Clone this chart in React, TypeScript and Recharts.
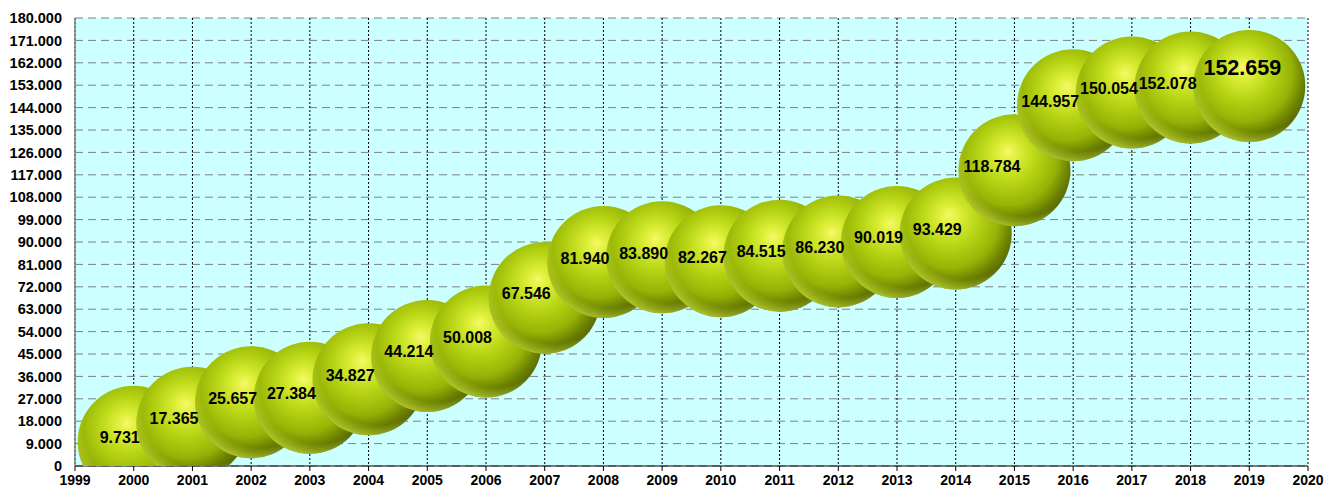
import React from 'react';
import { ScatterChart, Scatter, XAxis, YAxis, CartesianGrid } from 'recharts';

const years = [2000, 2001, 2002, 2003, 2004, 2005, 2006, 2007, 2008, 2009, 2010, 2011, 2012, 2013, 2014, 2015, 2016, 2017, 2018, 2019];
const values = [9731, 17365, 25657, 27384, 34827, 44214, 50008, 67546, 81940, 83890, 82267, 84515, 86230, 90019, 93429, 118784, 144957, 150054, 152078, 152659];
const xTicks = [1999, 2000, 2001, 2002, 2003, 2004, 2005, 2006, 2007, 2008, 2009, 2010, 2011, 2012, 2013, 2014, 2015, 2016, 2017, 2018, 2019, 2020];
const yTicks = [0, 9000, 18000, 27000, 36000, 45000, 54000, 63000, 72000, 81000, 90000, 99000, 108000, 117000, 126000, 135000, 144000, 153000, 162000, 171000, 180000];

const data = years.map((year, i) => ({ year, value: values[i] }));

const FONT = '"Liberation Sans", Arial, sans-serif';
const R = 56;

const fmt = (v: number) => (v === 0 ? '0' : String(v).replace(/\B(?=(\d{3})+(?!\d))/g, '.'));

const Bubble = (props: any) => {
  const { cx, cy } = props;
  if (cx == null || cy == null) return null;
  return (
    <g>
      <circle cx={cx} cy={cy} r={R} fill="url(#sphereMain)" />
      <circle cx={cx} cy={cy} r={R} fill="url(#sphereRim)" />
    </g>
  );
};

const BubbleLabel = (props: any) => {
  const { cx, cy, payload } = props;
  if (cx == null || cy == null) return null;
  const isLast = payload.year === years[years.length - 1];
  return (
    <text
      x={isLast ? cx - 7 : cx + 6}
      y={isLast ? cy - 18 : cy - 4}
      textAnchor={isLast ? 'middle' : 'end'}
      dominantBaseline="central"
      fontFamily={FONT}
      fontWeight="bold"
      fontSize={isLast ? 21.5 : 16}
      fill="#000"
    >
      {fmt(payload.value)}
    </text>
  );
};

export default function App() {
  return (
    <div style={{ position: 'absolute', left: 0, top: 0, width: 1325, height: 488, background: '#fff' }}>
      <svg width={0} height={0} style={{ position: 'absolute' }}>
        <defs>
          <radialGradient id="sphereMain" cx="45%" cy="40%" r="62%" fx="44%" fy="33%">
            <stop offset="0%" stopColor="#f6f86a" />
            <stop offset="14%" stopColor="#def03a" />
            <stop offset="42%" stopColor="#b6d414" />
            <stop offset="70%" stopColor="#96b206" />
            <stop offset="88%" stopColor="#6a7e00" />
            <stop offset="100%" stopColor="#55650a" />
          </radialGradient>
          <radialGradient id="sphereRim" cx="58%" cy="38%" r="66%" fx="58%" fy="38%">
            <stop offset="0%" stopColor="#d8f040" stopOpacity={0} />
            <stop offset="80%" stopColor="#d8f040" stopOpacity={0} />
            <stop offset="100%" stopColor="#d8f040" stopOpacity={0.75} />
          </radialGradient>
        </defs>
      </svg>
      <ScatterChart width={1325} height={488} margin={{ top: 18, right: 17, bottom: 0, left: 0 }}>
        <CartesianGrid horizontal vertical={false} stroke="#808080" strokeDasharray="8 5" fill="#ccffff" />
        <CartesianGrid horizontal={false} vertical stroke="#000" strokeDasharray="2 2" strokeWidth={1} />
        <XAxis
          dataKey="year"
          type="number"
          domain={[1999, 2020]}
          ticks={xTicks}
          interval={0}
          height={22}
          tickSize={5}
          tickMargin={4}
          axisLine={{ stroke: '#000', strokeWidth: 1 }}
          tickLine={{ stroke: '#000' }}
          tick={{ fill: '#000', fontSize: 14, fontWeight: 'bold', fontFamily: FONT }}
        />
        <XAxis
          xAxisId="top"
          orientation="top"
          dataKey="year"
          type="number"
          domain={[1999, 2020]}
          height={0}
          tick={false}
          tickLine={false}
          axisLine={{ stroke: '#999', strokeWidth: 2 }}
        />
        <YAxis
          dataKey="value"
          type="number"
          domain={[0, 180000]}
          ticks={yTicks}
          interval={0}
          allowDataOverflow
          width={75}
          tickLine={false}
          tickSize={8}
          tickMargin={5}
          tickFormatter={fmt}
          axisLine={{ stroke: '#808080', strokeWidth: 1.5 }}
          tick={{ fill: '#000', fontSize: 14.5, fontWeight: 'bold', fontFamily: FONT }}
        />
        <YAxis
          yAxisId="right"
          orientation="right"
          dataKey="value"
          type="number"
          domain={[0, 180000]}
          width={0}
          tick={false}
          tickLine={false}
          axisLine={{ stroke: '#999', strokeWidth: 2 }}
        />
        <Scatter data={data} shape={<Bubble />} isAnimationActive={false} />
        <Scatter data={data} shape={<BubbleLabel />} isAnimationActive={false} />
      </ScatterChart>
    </div>
  );
}
